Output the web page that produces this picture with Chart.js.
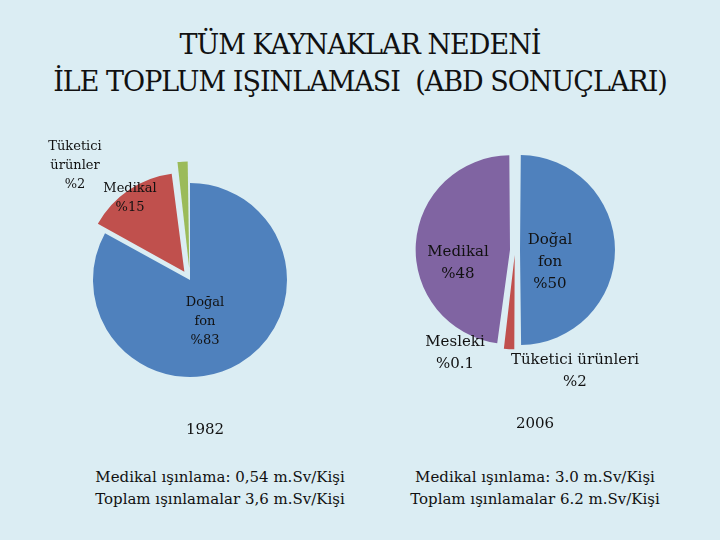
<!DOCTYPE html>
<html><head><meta charset="utf-8">
<script src="https://cdn.jsdelivr.net/npm/chart.js@4"></script>
<style>
body{margin:0;width:720px;height:540px;background:#dbedf3;font-family:"DejaVu Serif","Liberation Serif",serif;color:#111;position:relative;overflow:hidden}
.t{position:absolute;white-space:nowrap;text-align:center}
canvas{position:absolute}
</style></head><body>
<div class="t" style="left:0;width:720px;top:26px;font-size:27px;line-height:37px;letter-spacing:-1px">TÜM KAYNAKLAR NEDENİ<br>İLE TOPLUM IŞINLAMASI&nbsp; (ABD SONUÇLARI)</div>
<div style="position:absolute;left:70px;top:160px;width:240px;height:240px"><canvas id="c1"></canvas></div>
<div style="position:absolute;left:415px;top:150px;width:200px;height:200px"><canvas id="c2"></canvas></div>
<div class="t" style="left:45px;width:60px;top:136px;font-size:13px;line-height:19px">Tüketici<br>ürünler<br>%2</div>
<div class="t" style="left:95px;width:70px;top:178px;font-size:13px;line-height:19px">Medikal<br>%15</div>
<div class="t" style="left:175px;width:60px;top:292px;font-size:13px;line-height:19px">Doğal<br>fon<br>%83</div>
<div class="t" style="left:418px;width:80px;top:240px;font-size:15px;line-height:22px">Medikal<br>%48</div>
<div class="t" style="left:520px;width:60px;top:228px;font-size:15px;line-height:22px">Doğal<br>fon<br>%50</div>
<div class="t" style="left:420px;width:70px;top:330px;font-size:15px;line-height:22px">Mesleki<br>%0.1</div>
<div class="t" style="left:505px;width:140px;top:348px;font-size:15px;line-height:22px">Tüketici ürünleri<br>%2</div>
<div class="t" style="left:160px;width:90px;top:420px;font-size:15px">1982</div>
<div class="t" style="left:490px;width:90px;top:414px;font-size:15px">2006</div>
<div class="t" style="left:60px;width:320px;top:466px;font-size:15px;line-height:22px">Medikal ışınlama: 0,54 m.Sv/Kişi<br>Toplam ışınlamalar 3,6 m.Sv/Kişi</div>
<div class="t" style="left:375px;width:320px;top:466px;font-size:15px;line-height:22px">Medikal ışınlama: 3.0 m.Sv/Kişi<br>Toplam ışınlamalar 6.2 m.Sv/Kişi</div>
<script>
const kategoriler1982 = ['Doğal fon', 'Medikal', 'Tüketici ürünler'];
const degerler1982 = [83, 15, 2];
const kategoriler2006 = ['Doğal fon', 'Tüketici ürünleri', 'Mesleki', 'Medikal'];
const degerler2006 = [50, 2, 0.1, 48];

function pasta(id, labels, data, renkler, ofset) {
    new Chart(document.getElementById(id), {
        type: 'pie',
        data: { labels: labels, datasets: [{ data: data, backgroundColor: renkler, borderWidth: 0, offset: ofset }] },
        options: {
            responsive: true, maintainAspectRatio: false, animation: false,
            plugins: { legend: { display: false }, tooltip: { enabled: false } }
        }
    });
}
pasta('c1', kategoriler1982, degerler1982, ['#4f81bd', '#c0504d', '#9bbb59'], [0, 40, 46]);
pasta('c2', kategoriler2006, degerler2006, ['#4f81bd', '#c0504d', '#9bbb59', '#8064a2'], [20, 20, 20, 20]);
</script>
</body></html>
